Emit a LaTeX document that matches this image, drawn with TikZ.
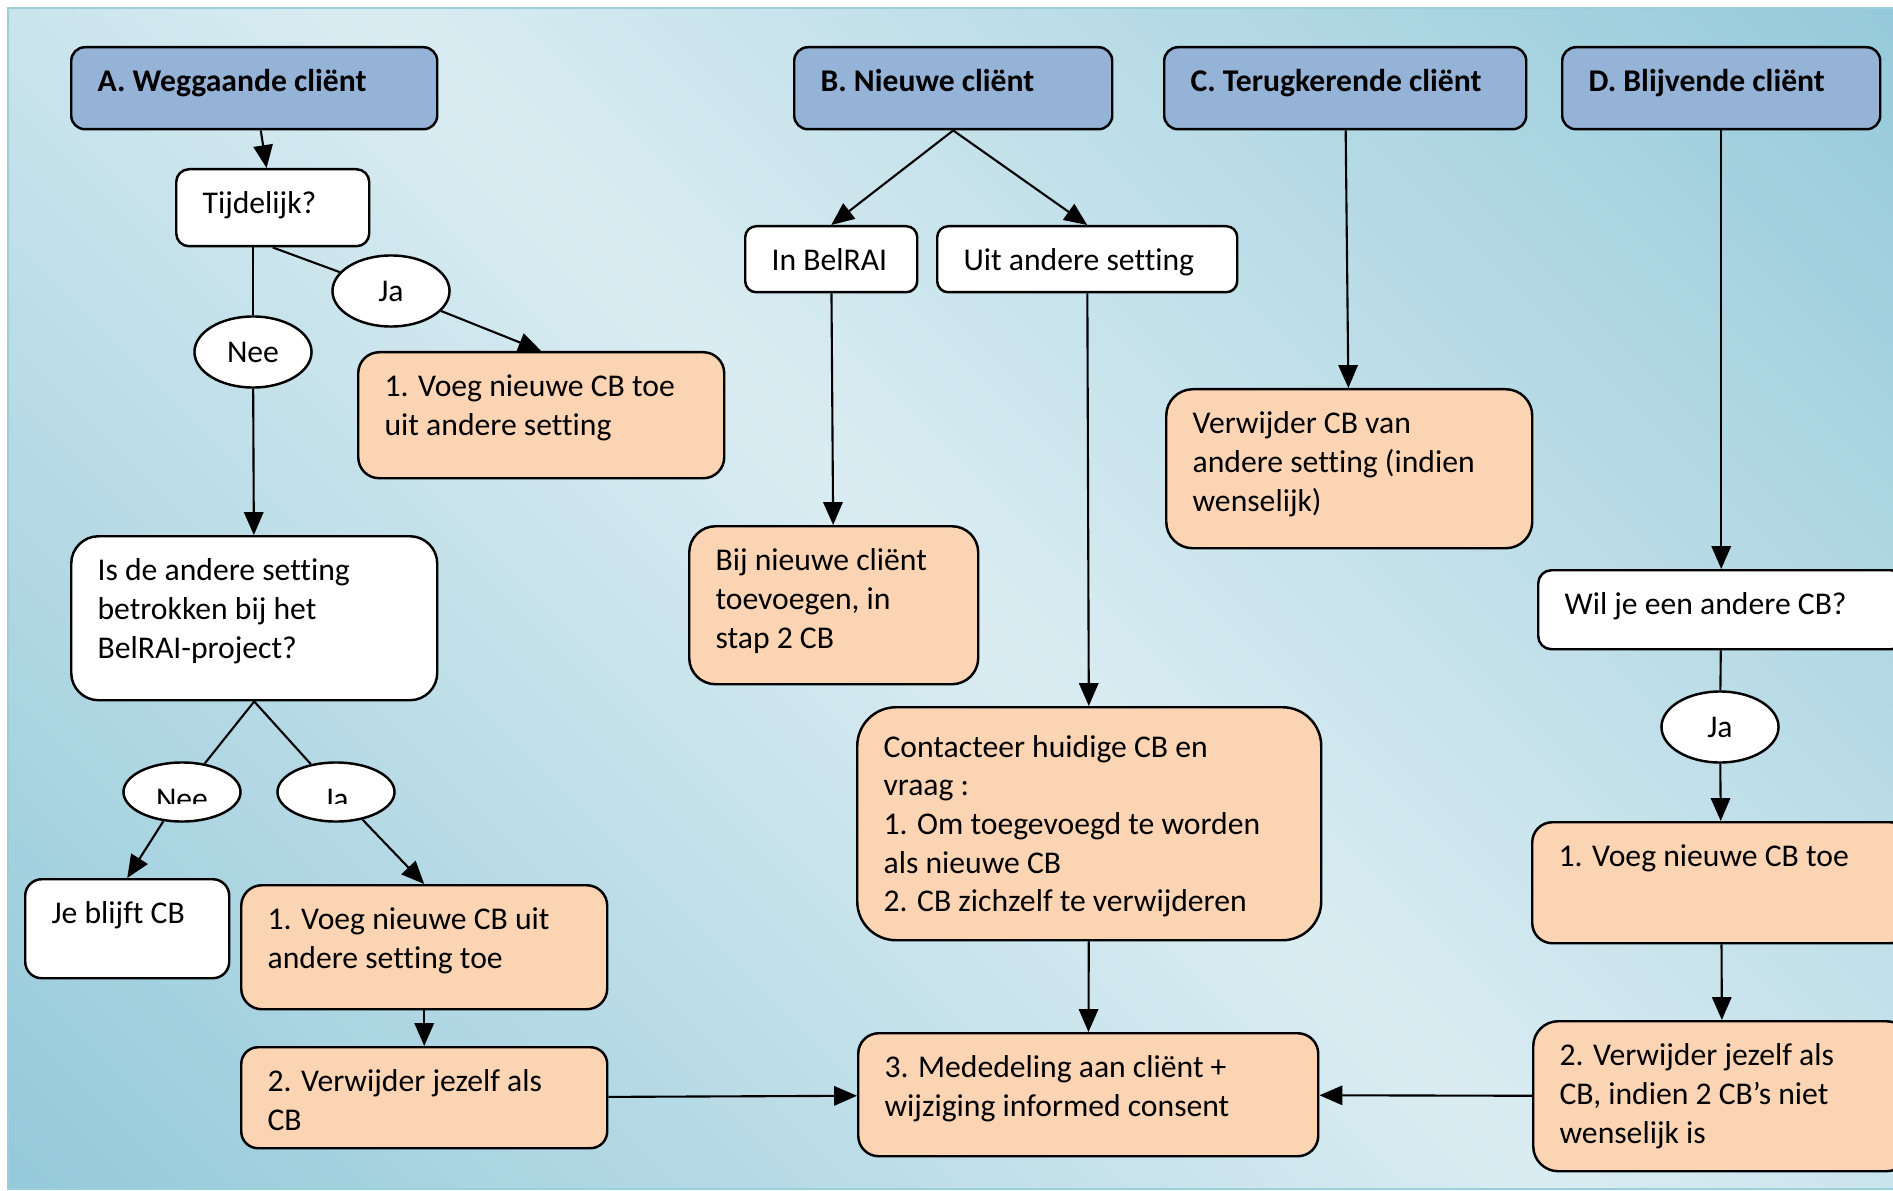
\documentclass[tikz,border=0pt]{standalone}
\usepackage{fontspec}
\setmainfont{Carlito}[Ligatures=NoCommon]
\usetikzlibrary{shapes.geometric,arrows.meta}

\definecolor{headblue}{HTML}{95B3D7}
\definecolor{stepor}{HTML}{FBD4B4}
\definecolor{bgdark}{HTML}{93C9D9}
\definecolor{bglight}{HTML}{DAECF2}
\definecolor{framecol}{HTML}{9CCFDC}

\pgfdeclareverticalshading{bgshade}{100bp}{color(0bp)=(bgdark); color(14bp)=(bgdark); color(50bp)=(bglight); color(86bp)=(bgdark); color(100bp)=(bgdark)}

\newlength\px \setlength\px{0.01cm}
% style, name, top left corner, width, height, text
\newcommand{\flowbox}[6]{%
  \pgfmathsetmacro\rad{0.0474*min(#4,#5)}%
  \node[#1, rounded corners=\rad pt, minimum width=#4*0.01cm, minimum height=#5*0.01cm] (#2) at (#3)
    {\parbox[t][\dimexpr#5\px-10pt\relax][t]{\dimexpr#4\px-15pt\relax}{\raggedright\strut #6}};}

\tikzset{
  box/.style={draw, line width=0.7pt, anchor=north west, inner xsep=7.5pt, inner ysep=5pt},
  head/.style={box, fill=headblue, font=\fontsize{9}{11}\selectfont\bfseries},
  ask/.style={box, fill=white},
  act/.style={box, fill=stepor},
  oval/.style={ellipse, draw, fill=white, line width=0.7pt, inner sep=0pt, minimum width=1.17cm, minimum height=0.71cm},
  ovalcut/.style={oval, minimum height=0.59cm,
    path picture={\clip ([yshift=5pt]path picture bounding box.south west) rectangle (path picture bounding box.north east);
      \node[anchor=base, inner sep=0pt] at ([yshift=3.5pt]path picture bounding box.south) {#1};}},
  arr/.style={-{Triangle[length=6.5pt,width=5.5pt]}}
}

\begin{document}
\begin{tikzpicture}[x=0.01cm, y=-0.01cm, font=\fontsize{9}{11}\selectfont, line width=0.6pt]
  \clip (0,0) rectangle (1893,1191);
  \fill[white] (0,0) rectangle (1893,1191);
  \shade[shading=bgshade, shading angle=-45] (8,8) rectangle (1910,1189);
  \draw[framecol, line width=0.8pt] (8,8) rectangle (1910,1189);

  % A. weggaande client
  \flowbox{head}{wegA}{70,46}{366}{82}{A. Weggaande cliënt}
  \flowbox{ask}{tijd}{175,168}{193}{77}{Tijdelijk?}
  \flowbox{act}{voeg1}{357,351}{366}{126}{1. Voeg nieuwe CB toe\\uit andere setting}
  \flowbox{ask}{isde}{70,535}{366}{164}{Is de andere setting\\betrokken bij het\\BelRAI-project?}
  \flowbox{ask}{blijf}{24,878}{204}{99}{Je blijft CB}
  \flowbox{act}{voeg2}{240,884}{366}{124}{1. Voeg nieuwe CB uit\\andere setting toe}
  \flowbox{act}{verw2}{240,1046}{366}{101}{2. Verwijder jezelf als\\CB}
  \node[oval] (ja1) at (391,291) {Ja};
  \node[oval] (nee1) at (253,352) {Nee};
  \node[ovalcut={Nee}] (nee2) at (182,792) {};
  \node[ovalcut={Ja}] (ja2) at (336,792) {};

  % B. nieuwe client
  \flowbox{head}{nieuwB}{793,46}{318}{82}{B. Nieuwe cliënt}
  \flowbox{ask}{inbel}{744,225}{172}{66}{In BelRAI}
  \flowbox{ask}{uit}{936,225}{300}{66}{Uit andere setting}
  \flowbox{act}{bij}{688,525}{289}{158}{Bij nieuwe cliënt\\toevoegen, in\\stap 2 CB}
  \flowbox{act}{contact}{856,706}{464}{233}{\rule{0pt}{9.2pt}Contacteer huidige CB en\\vraag :\\1. Om toegevoegd te worden\\als nieuwe CB\\2. CB zichzelf te verwijderen}
  \flowbox{act}{meded}{857,1032}{460}{123}{3. Mededeling aan cliënt +\\wijziging informed consent}

  % C. terugkerende client
  \flowbox{head}{terugC}{1163,46}{362}{82}{C. Terugkerende cliënt}
  \flowbox{act}{verwC}{1165,388}{366}{159}{Verwijder CB van\\andere setting (indien\\wenselijk)}

  % D. blijvende client
  \flowbox{head}{blijfD}{1561,46}{318}{82}{D. Blijvende cliënt}
  \flowbox{ask}{wil}{1537,569}{366}{79}{Wil je een andere CB?}
  \flowbox{act}{voegD}{1531,821}{378}{121}{1. Voeg nieuwe CB toe}
  \flowbox{act}{verwD}{1532,1020}{378}{150}{2. Verwijder jezelf als\\CB, indien 2 CB’s niet\\wenselijk is}
  \node[oval] (jaD) at (1720,727) {Ja};

  % connectors
  \draw[arr] (wegA) -- (tijd);
  \draw (tijd.south) -- (ja1);
  \draw[arr] (ja1) -- (voeg1.north);
  \draw (tijd.south -| nee1) -- (nee1);
  \draw[arr] (nee1) -- (isde);
  \draw (isde.south) -- (nee2);
  \draw[arr] (nee2) -- (blijf.north);
  \draw (isde.south) -- (ja2);
  \draw[arr] (ja2) -- (voeg2.north);
  \draw[arr] (voeg2) -- (verw2);
  \draw[arr] (verw2) -- (meded);
  \draw[arr] (nieuwB.south) -- (inbel.north);
  \draw[arr] (nieuwB.south) -- (uit.north);
  \draw[arr] (inbel) -- (bij);
  \draw[arr] (uit) -- (contact);
  \draw[arr] (contact) -- (meded);
  \draw[arr] (terugC) -- (verwC);
  \draw[arr] (blijfD) -- (wil);
  \draw (wil) -- (jaD);
  \draw[arr] (jaD) -- (voegD);
  \draw[arr] (voegD) -- (verwD);
  \draw[arr] (verwD) -- (meded);
\end{tikzpicture}
\end{document}
